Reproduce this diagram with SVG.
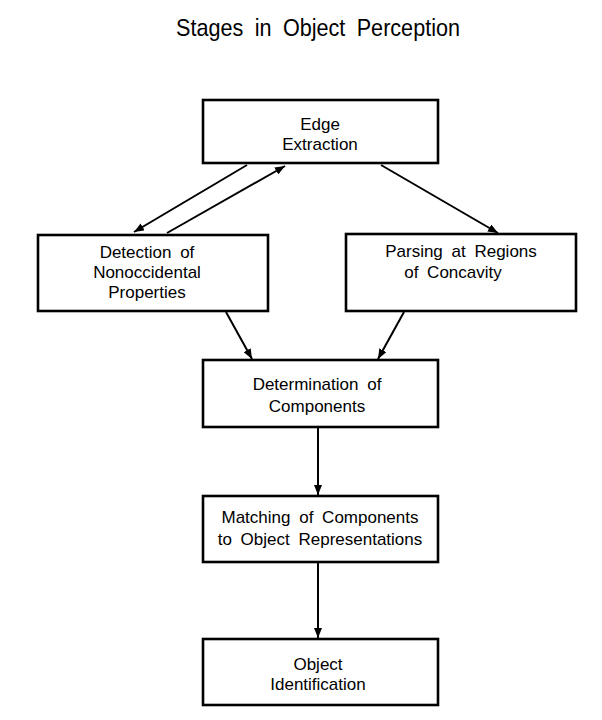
<svg xmlns="http://www.w3.org/2000/svg" width="602" height="720" viewBox="0 0 602 720">
<style>
.box{fill:#fff;stroke:#000;stroke-width:2.6}
.t{font-family:"Liberation Sans",Arial,sans-serif;font-size:17px;fill:#000;text-anchor:middle;word-spacing:4px}
.title{font-family:"Liberation Sans",Arial,sans-serif;font-size:24px;fill:#000;text-anchor:middle;word-spacing:6px}
.c{stroke:#000;stroke-width:2;fill:none;marker-end:url(#ah)}
</style>
<defs>
<marker id="ah" viewBox="0 0 10 8" refX="10" refY="4" markerWidth="10" markerHeight="8" markerUnits="userSpaceOnUse" orient="auto">
<path d="M0,0 L10,4 L0,8 Z" fill="#000"/>
</marker>
</defs>
<rect width="602" height="720" fill="#fff"/>
<text class="title" transform="translate(318,36) scale(0.9,1)">Stages in Object Perception</text>

<g id="connectors">
<line class="c" x1="247" y1="165" x2="134" y2="232"/>
<line class="c" x1="167" y1="233" x2="285" y2="166"/>
<line class="c" x1="381" y1="165" x2="498" y2="233"/>
<line class="c" x1="226" y1="312" x2="252" y2="359"/>
<line class="c" x1="404" y1="312" x2="378" y2="359"/>
<line class="c" x1="318" y1="428" x2="318" y2="495"/>
<line class="c" x1="318" y1="563" x2="318" y2="638"/>
</g>

<g id="edge">
<rect class="box" x="203" y="100" width="235" height="63"/>
<text class="t" x="320" y="130">Edge</text>
<text class="t" x="320" y="150">Extraction</text>
</g>
<g id="detection">
<rect class="box" x="38" y="235" width="230" height="76"/>
<text class="t" x="147" y="258">Detection of</text>
<text class="t" x="147" y="278">Nonoccidental</text>
<text class="t" x="147" y="298">Properties</text>
</g>
<g id="parsing">
<rect class="box" x="346" y="234" width="230" height="77"/>
<text class="t" x="461" y="257">Parsing at Regions</text>
<text class="t" x="453" y="278">of Concavity</text>
</g>
<g id="determination">
<rect class="box" x="203" y="360" width="235" height="67"/>
<text class="t" x="317" y="390">Determination of</text>
<text class="t" x="317" y="412">Components</text>
</g>
<g id="matching">
<rect class="box" x="203" y="496" width="235" height="66"/>
<text class="t" x="320" y="523">Matching of Components</text>
<text class="t" x="320" y="545">to Object Representations</text>
</g>
<g id="identification">
<rect class="box" x="203" y="639" width="235" height="66"/>
<text class="t" x="318" y="670">Object</text>
<text class="t" x="318" y="690">Identification</text>
</g>
</svg>
